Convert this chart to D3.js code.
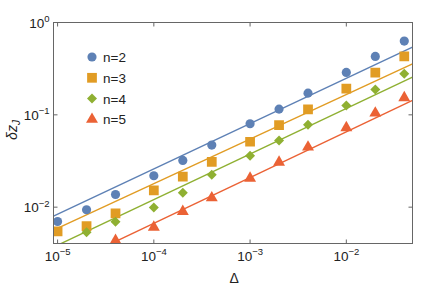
<!DOCTYPE html>
<html>
<head>
<meta charset="utf-8">
<script src="https://cdn.jsdelivr.net/npm/d3@7"></script>
<style>
  body { margin: 0; background: #fff; }
  text { font-family: "Liberation Sans", Arial, sans-serif; fill: #222; }
</style>
</head>
<body>
<div id="chart"></div>
<script>
// Delta values (x), shared by every series
var deltas = [1e-5, 2e-5, 4e-5, 1e-4, 2e-4, 4e-4, 1e-3, 2e-3, 4e-3, 1e-2, 2e-2, 4e-2];

// delta z_J values (null = below the plotted range)
var n2 = [0.0070, 0.00937, 0.0137, 0.0219, 0.0321, 0.0470, 0.0801, 0.1153, 0.1718, 0.288, 0.429, 0.629];
var n3 = [0.00546, 0.00622, 0.00854, 0.0152, 0.0214, 0.0310, 0.0511, 0.0773, 0.1144, 0.192, 0.286, 0.429];
var n4 = [null, 0.00536, 0.00695, 0.00993, 0.0143, 0.0224, 0.0360, 0.0528, 0.0781, 0.1264, 0.188, 0.279];
var n5 = [null, null, 0.00436, 0.00607, 0.00898, 0.0126, 0.0206, 0.0307, 0.0447, 0.0725, 0.1043, 0.1532];

// fitted power laws: value at Delta = 1e-3 and exponent
var fitAmp = [0.0804, 0.0547, 0.0376, 0.0209];
var fitExp = [0.491, 0.483, 0.4935, 0.4953];

var labels = ["n=2", "n=3", "n=4", "n=5"];
var shapes = [d3.symbolCircle, d3.symbolSquare, d3.symbolSquare, d3.symbolTriangle];
var turns = [0, 0, 45, 0];
var sizes = [66, 95, 50, 62];
var colors = ["#5e81b5", "#e19c24", "#8fb032", "#eb6235"];

var xTicks = [1e-5, 1e-4, 1e-3, 1e-2];
var yTicks = [1e-2, 1e-1, 1];

var W = 436, H = 286;
var margin = {top: 22.5, right: 23.5, bottom: 42.5, left: 53.5};
var width = W - margin.left - margin.right,
    height = H - margin.top - margin.bottom;

var x = d3.scaleLog().domain([9.07e-6, 0.0487]).range([0, width]);
var y = d3.scaleLog().domain([0.00404, 1]).range([height, 0]);

var svg = d3.select("#chart").append("svg")
    .attr("width", W)
    .attr("height", H);

var g = svg.append("g")
    .attr("transform", "translate(" + margin.left + "," + margin.top + ")");

g.append("clipPath").attr("id", "clip")
  .append("rect").attr("width", width).attr("height", height);

var plot = g.append("g").attr("clip-path", "url(#clip)");

var series = [n2, n3, n4, n5];

// fit lines
var line = d3.line()
    .x(function(d) { return x(d[0]); })
    .y(function(d) { return y(d[1]); });

series.forEach(function(s, i) {
  var xs = x.domain();
  var pts = xs.map(function(v) {
    return [v, fitAmp[i] * Math.pow(v / 1e-3, fitExp[i])];
  });
  plot.append("path")
      .attr("d", line(pts))
      .attr("fill", "none")
      .attr("stroke", colors[i])
      .attr("stroke-width", 1.4);
});

// markers
series.forEach(function(s, i) {
  var pts = deltas.map(function(d, j) { return {x: d, y: s[j]}; })
      .filter(function(p) { return p.y != null; });
  plot.selectAll(".m" + i)
      .data(pts)
      .enter()
      .append("path")
      .attr("class", "m" + i)
      .attr("d", d3.symbol().type(shapes[i]).size(sizes[i]))
      .attr("transform", function(p) {
        return "translate(" + x(p.x) + "," + y(p.y) + ") rotate(" + turns[i] + ")";
      })
      .attr("fill", colors[i]);
});

// frame
g.append("rect")
    .attr("width", width)
    .attr("height", height)
    .attr("fill", "none")
    .attr("stroke", "#666")
    .attr("stroke-width", 1);

// ticks (inside the frame)
xTicks.forEach(function(t) {
  g.append("line")
      .attr("x1", x(t)).attr("x2", x(t))
      .attr("y1", height).attr("y2", height - 4)
      .attr("stroke", "#666");
  g.append("line")
      .attr("x1", x(t)).attr("x2", x(t))
      .attr("y1", 0).attr("y2", 4)
      .attr("stroke", "#666");
  var lab = g.append("text")
      .attr("x", x(t))
      .attr("y", height + 17)
      .attr("text-anchor", "middle")
      .style("font-size", "13.5px");
  lab.append("tspan").text("10");
  lab.append("tspan")
      .attr("dy", -5.5)
      .style("font-size", "9.5px")
      .text("\u2212" + Math.round(-Math.log10(t)));
});

yTicks.forEach(function(t) {
  g.append("line")
      .attr("x1", 0).attr("x2", 4)
      .attr("y1", y(t)).attr("y2", y(t))
      .attr("stroke", "#666");
  g.append("line")
      .attr("x1", width).attr("x2", width - 4)
      .attr("y1", y(t)).attr("y2", y(t))
      .attr("stroke", "#666");
  var p = Math.round(Math.log10(t));
  var lab = g.append("text")
      .attr("x", -4)
      .attr("y", y(t) + 5)
      .attr("text-anchor", "end")
      .style("font-size", "13.5px");
  lab.append("tspan").text("10");
  lab.append("tspan")
      .attr("dy", -5.5)
      .style("font-size", "9.5px")
      .text(p === 0 ? "0" : "\u2212" + (-p));
});

// axis labels
g.append("text")
    .attr("x", x(1e-3) - 16)
    .attr("y", height + 39)
    .attr("text-anchor", "middle")
    .style("font-size", "14px")
    .text("\u0394");

var yl = svg.append("text")
    .attr("transform", "translate(17," + 130 + ") rotate(-90)")
    .attr("text-anchor", "middle")
    .style("font-size", "14px")
    .style("font-style", "italic");
yl.append("tspan").text("\u03b4z");
yl.append("tspan").attr("dy", 3).style("font-size", "10px").text("J");

// legend
var legend = g.append("g")
    .attr("transform", "translate(" + (92 - margin.left) + "," + (57 - margin.top) + ")");
labels.forEach(function(l, i) {
  var row = legend.append("g").attr("transform", "translate(0," + (i * 20.8) + ")");
  row.append("path")
      .attr("d", d3.symbol().type(shapes[i]).size(sizes[i]))
      .attr("transform", "rotate(" + turns[i] + ")")
      .attr("fill", colors[i]);
  row.append("text")
      .attr("x", 11)
      .attr("y", 5)
      .style("font-size", "13.5px")
      .text(l);
});
</script>
</body>
</html>
